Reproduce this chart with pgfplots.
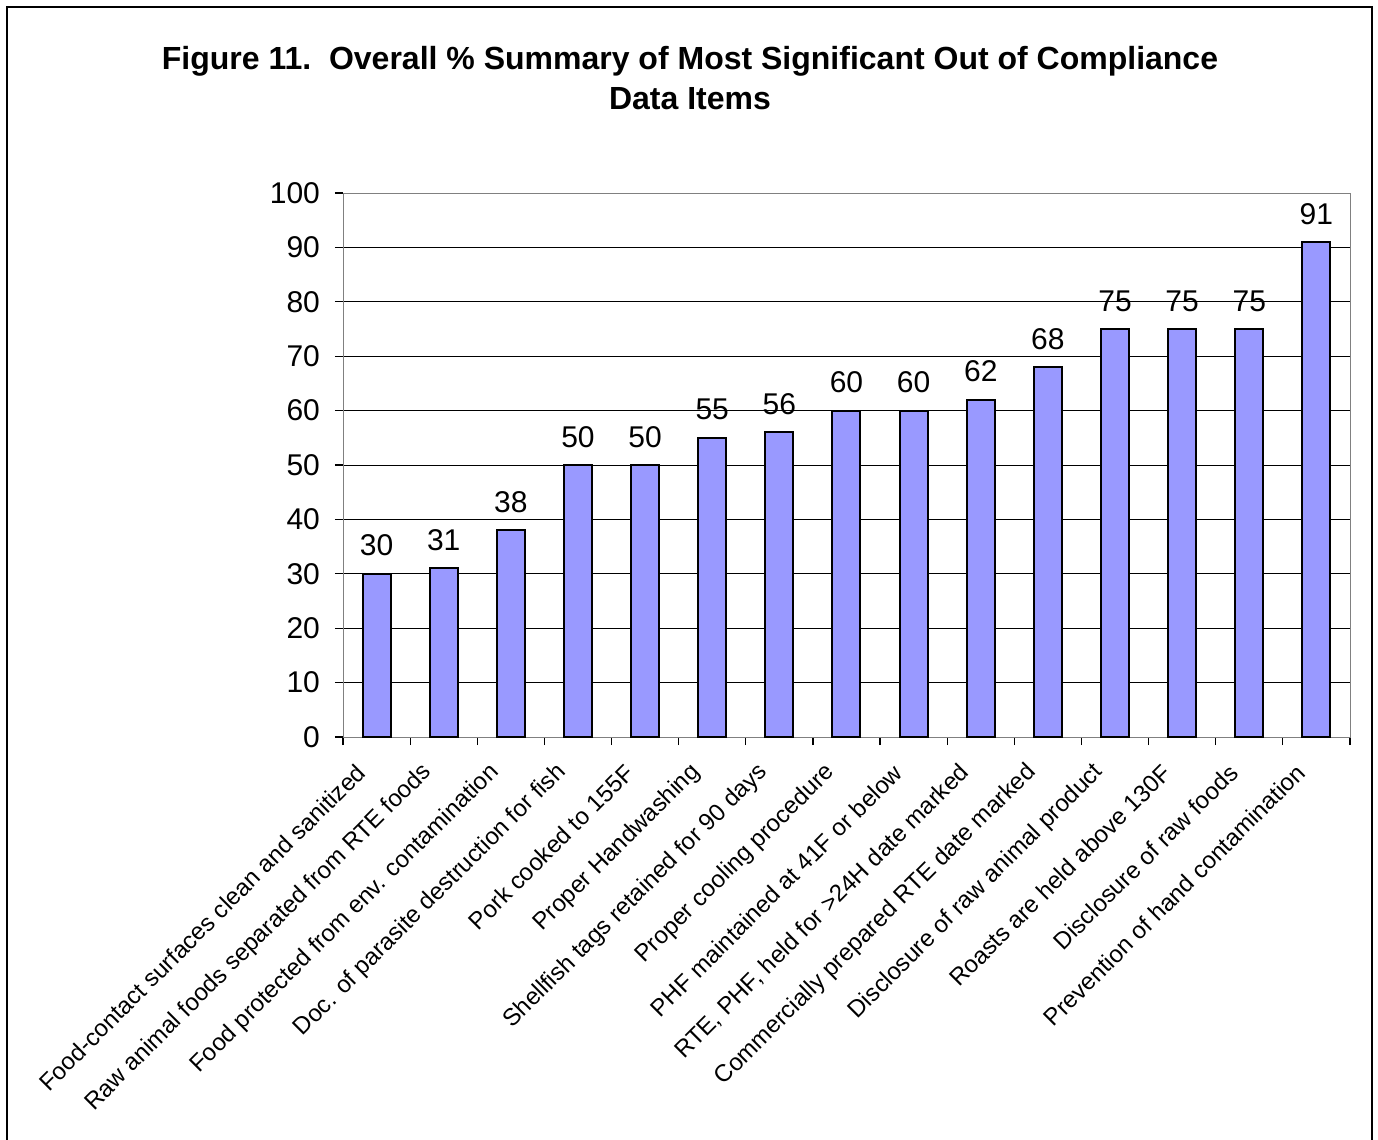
\documentclass[border=0pt]{standalone}
\usepackage{pgfplots}
\pgfplotsset{compat=1.18}
\usepackage{fontspec}
\setmainfont{Liberation Sans}
\definecolor{barblue}{HTML}{9999FF}
\begin{document}
\begin{tikzpicture}
\useasboundingbox (-171.5pt,-201.5pt) rectangle (517.5pt,368.5pt);
\draw[line width=1.2pt] (-168pt,-205pt) -- (-168pt,365pt) -- (514.5pt,365pt) -- (514.5pt,-205pt);
\node[font=\bfseries\fontsize{16}{20}\selectfont, align=center] at (173.5pt,329.5pt) {Figure 11.\ \ Overall \% Summary of Most Significant Out of Compliance\\Data Items};
\begin{axis}[
  scale only axis, width=503.5pt, height=272pt,
  ymin=0, ymax=100, ytick={0,10,...,90}, extra y ticks={100},
  extra y tick style={grid=none},
  xmin=-0.5, xmax=14.5, xtick={0,...,14},
  minor xtick={-0.5,0.5,...,14.5},
  major x tick style={draw=none},
  minor tick length=4pt, major tick length=4pt,
  tick align=outside, tick pos=left,
  tick style={black, line width=0.6pt},
  axis line style={draw=gray},
  ymajorgrids, major grid style={black, line width=0.5pt},
  /pgf/number format/assume math mode=true,
  yticklabel style={font=\fontsize{15}{17}\selectfont, xshift=-4pt},
  xticklabel style={font=\fontsize{12}{14}\selectfont, xshift=-7pt, yshift=-11pt, rotate=45, anchor=east, inner sep=1pt},
  xticklabels={Food-contact surfaces clean and sanitized,
    Raw animal foods separated from RTE foods,
    Food protected from env. contamination,
    Doc. of parasite destruction for fish,
    Pork cooked to 155F,
    Proper Handwashing,
    Shellfish tags retained for 90 days,
    Proper cooling procedure,
    PHF maintained at 41F or below,
    {RTE, PHF, held for >24H date marked},
    Commercially prepared RTE date marked,
    Disclosure of raw animal product,
    Roasts are held above 130F,
    Disclosure of raw foods,
    Prevention of hand contamination},
  ybar, bar width=14pt,
  nodes near coords,
  nodes near coords style={font=\fontsize{15}{17}\selectfont, yshift=5pt},
]
\addplot[draw=black, fill=barblue, line width=1pt] coordinates {
 (0,30) (1,31) (2,38) (3,50) (4,50) (5,55) (6,56) (7,60) (8,60) (9,62) (10,68) (11,75) (12,75) (13,75) (14,91)};
\end{axis}
\end{tikzpicture}
\end{document}
